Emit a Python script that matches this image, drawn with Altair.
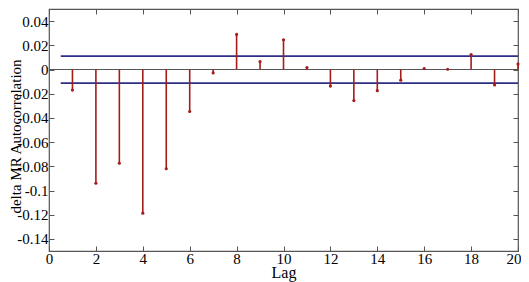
import altair as alt
import pandas as pd

lags = list(range(1, 21))
acf = [-0.017, -0.094, -0.0775, -0.1187, -0.082, -0.0347, -0.0028, 0.029, 0.0065, 0.0245,
       0.0016, -0.0137, -0.0257, -0.0175, -0.0088, 0.0008, 0.0002, 0.0123, -0.0128, 0.0046]
conf_bounds = [0.0111, -0.0112]
conf_start = 0.5
conf_end = 20
x_ticks = list(range(0, 21, 2))
y_ticks = [0.04, 0.02, 0, -0.02, -0.04, -0.06, -0.08, -0.1, -0.12, -0.14]

df = pd.DataFrame({"lag": lags, "acf": acf})
conf_df = pd.DataFrame({"y": conf_bounds, "x1": [conf_start] * 2, "x2": [conf_end] * 2})

FONT = "Liberation Serif, Times New Roman, Times, serif"
RED = "#a51c1c"
BLUE = "#2e2e86"
xscale = alt.Scale(domain=[0, 20], nice=False, zero=False)
yscale = alt.Scale(domain=[-0.15, 0.05], nice=False, zero=False)
lab = "replace(format(datum.value, '.2~f'), '\u2212', '-')"

common_axis = dict(domain=False, grid=False, tickColor="#555", tickSize=5, offset=-5,
                   labelFont=FONT, labelColor="black", titleFont=FONT, titleColor="black",
                   labelFlush=False)

stems = alt.Chart(df).mark_rule(color=RED, strokeWidth=1.6).encode(
    x=alt.X("lag:Q", scale=xscale,
            axis=alt.Axis(values=x_ticks, title="Lag", labelFontSize=15, titleFontSize=16,
                          titleFontWeight="normal", labelPadding=0, titlePadding=-2,
                          labelAlign=alt.condition("datum.value == 20", alt.value("right"), alt.value("center")),
                          labelOffset=alt.condition("datum.value == 20", alt.value(3), alt.value(0)),
                          **common_axis)),
    y=alt.Y("acf:Q", scale=yscale,
            axis=alt.Axis(values=y_ticks, labelExpr=lab, title="delta MR Autocorrelation",
                          labelFontSize=15, titleFontSize=15, titleFontWeight="normal",
                          labelPadding=1, titleX=-34, titleY=127, titleAngle=270,
                          titleBaseline="alphabetic", titleAlign="center", **common_axis)),
    y2=alt.datum(0),
)

points = alt.Chart(df).mark_circle(color=RED, size=10, opacity=1).encode(
    x=alt.X("lag:Q", scale=xscale,
            axis=alt.Axis(values=x_ticks, orient="top", labels=False, title=None, **common_axis)),
    y=alt.Y("acf:Q", scale=yscale,
            axis=alt.Axis(values=y_ticks, orient="right", labels=False, title=None, **common_axis)),
)

zero = alt.Chart(pd.DataFrame({"z": [0]})).mark_rule(color="#555", strokeWidth=1.2).encode(
    y=alt.Y("z:Q", scale=yscale, axis=None)
)

conf = alt.Chart(conf_df).mark_rule(color=BLUE, strokeWidth=1.8).encode(
    x=alt.X("x1:Q", scale=xscale, axis=None),
    x2="x2:Q",
    y=alt.Y("y:Q", scale=yscale, axis=None),
)

chart = alt.layer(zero, conf, stems, points).resolve_axis(x="independent", y="independent").properties(
    width=469, height=242,
    padding={"left": 41, "top": 1, "right": 3, "bottom": 31},
    autosize=alt.AutoSizeParams(type="none"),
).configure(font=FONT).configure_view(stroke="#555", strokeWidth=1.2)

chart.save("out.html", embed_options={"renderer": "svg", "actions": False})
